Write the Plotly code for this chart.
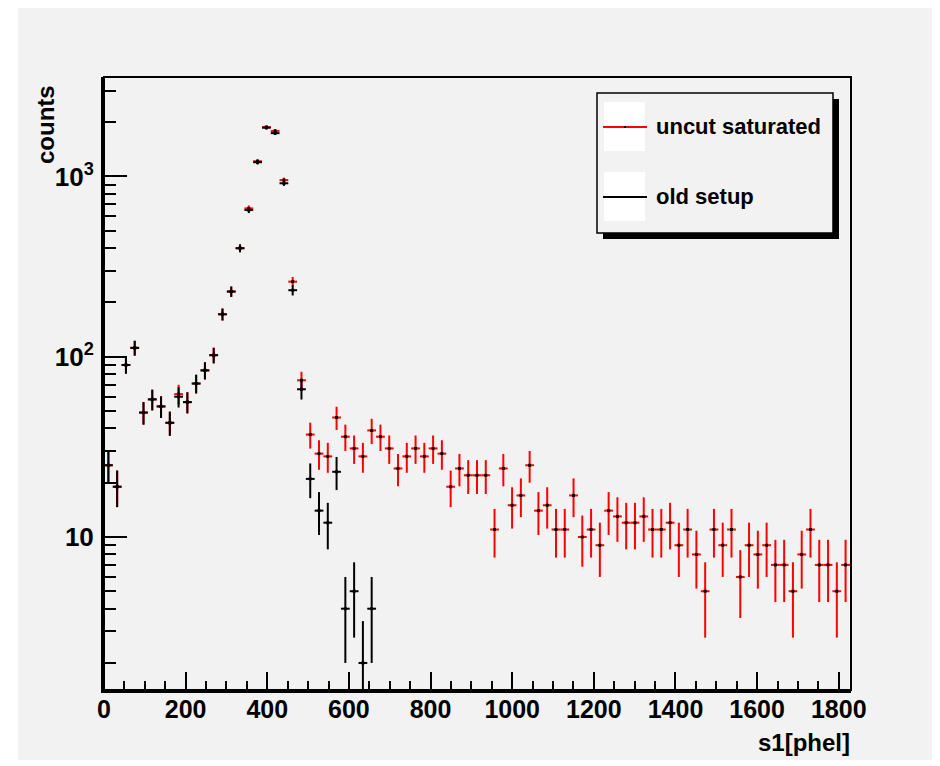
import numpy as np
import plotly.graph_objects as go

# ---------------- data ----------------
bin_width = 21.5          # phel per bin
n_bins = 85
x_max = 1830

old_setup_counts = [25, 19, 90, 112, 49, 58, 53, 43,
                    60, 56, 71, 84, 102, 172, 230, 400,
                    652, 1200, 1865, 1740, 917, 234,
                    66, 21, 14, 12, 23, 4, 5, 2, 4]

uncut_saturated_counts = [25, 19, 90, 112, 49, 58, 53, 43,
                          62, 56, 71, 84, 102, 172, 230, 400,
                          665, 1215, 1880, 1790, 955, 261,
                          74, 37, 29, 28, 46, 36, 31, 28, 39, 36,
                          31, 24, 28, 31, 28, 31, 29, 19, 24, 22,
                          22, 22, 11, 24, 15, 17, 25, 14, 15, 11,
                          11, 17, 10, 11, 9, 14, 13, 12, 12, 13,
                          11, 11, 12, 9, 11, 8, 5, 11, 9, 11,
                          6, 9, 8, 9, 7, 7, 5, 8, 11, 7,
                          7, 5, 7]

series_names = ["uncut saturated", "old setup"]
y_tick_values = [10, 100, 1000]
y_tick_labels = ["10", "10<sup>2</sup>", "10<sup>3</sup>"]
x_title = "s1[phel]"
y_title = "counts"

# ---------------- figure ----------------
OFF = 8                      # page body margin
W, H = 940 - OFF, 766 - OFF
L, T = 104 - OFF, 77 - OFF
R, B = W - (851 - OFF), H - (690 - OFF)
PW, PH = W - L - R, H - T - B

def px(x):
    """page pixel x -> paper"""
    return (x - OFF - L) / PW

def py(y):
    """page pixel y -> paper"""
    return (H - B - (y - OFF)) / PH

FONT = "Liberation Sans, Arial, Helvetica, sans-serif"
BG = "#f2f2f2"


def hist_trace(counts, color, name):
    counts = np.array(counts, dtype=float)
    centers = (np.arange(len(counts)) + 0.5) * bin_width
    return go.Scatter(
        x=centers, y=counts, name=name, mode="markers",
        marker=dict(color="black", size=3, symbol="square"),
        error_y=dict(type="data", array=np.sqrt(counts), symmetric=True,
                     color=color, thickness=2, width=0),
        error_x=dict(type="constant", value=bin_width / 2,
                     color=color, thickness=2, width=0),
        showlegend=False, hoverinfo="x+y",
    )


fig = go.Figure()
fig.add_trace(hist_trace(uncut_saturated_counts, "#ff0000", series_names[0]))
fig.add_trace(hist_trace(old_setup_counts, "#000000", series_names[1]))

minor_y = [v * m for m in (1, 10, 100) for v in range(2, 10)] + [2000, 3000]

fig.update_layout(
    width=W, height=H,
    margin=dict(l=L, r=R, t=T, b=B, pad=0),
    paper_bgcolor="white",
    plot_bgcolor=BG,
    font=dict(family=FONT, color="black"),
    xaxis=dict(
        range=[0, x_max], showgrid=False, zeroline=False,
        showline=True, linecolor="black", linewidth=3,
        ticks="inside", ticklen=18, tickwidth=1.5, tickcolor="black",
        tick0=0, dtick=200, ticklabelstandoff=-5,
        minor=dict(ticks="inside", ticklen=9, tickwidth=1.5, tickcolor="black", dtick=50),
        tickfont=dict(family=FONT, size=25, weight="bold", color="black"),
    ),
    yaxis=dict(
        type="log", range=[0.151, 3.552], showgrid=False, zeroline=False,
        showline=True, linecolor="black", linewidth=3,
        ticks="inside", ticklen=23, tickwidth=1.5, tickcolor="black",
        tickvals=y_tick_values, ticktext=y_tick_labels, ticklabelstandoff=2,
        minor=dict(ticks="inside", ticklen=12, tickwidth=1.5, tickcolor="black",
                   tickvals=minor_y),
        tickfont=dict(family=FONT, size=26, weight="bold", color="black"),
    ),
)

shapes = []
# grey canvas
shapes.append(dict(type="rect", xref="paper", yref="paper",
                   x0=px(18), x1=px(960), y0=py(760), y1=py(0),
                   fillcolor=BG, line=dict(width=0), layer="below"))
# frame
shapes.append(dict(type="rect", xref="paper", yref="paper",
                   x0=0, x1=1, y0=0, y1=1,
                   line=dict(color="black", width=2), fillcolor="rgba(0,0,0,0)"))
# legend shadow & box
shapes.append(dict(type="rect", xref="paper", yref="paper",
                   x0=px(603), x1=px(839), y0=py(239), y1=py(99),
                   fillcolor="black", line=dict(width=0)))
shapes.append(dict(type="rect", xref="paper", yref="paper",
                   x0=px(597), x1=px(833), y0=py(233), y1=py(93),
                   fillcolor=BG, line=dict(color="black", width=1.5)))
legend_rows = [(127, "#ff0000", series_names[0]), (197, "#000000", series_names[1])]
for yc, col, name in legend_rows:
    shapes.append(dict(type="rect", xref="paper", yref="paper",
                       x0=px(604), x1=px(645), y0=py(yc + 24), y1=py(yc - 25),
                       fillcolor="white", line=dict(width=0)))
    shapes.append(dict(type="line", xref="paper", yref="paper",
                       x0=px(603), x1=px(647), y0=py(yc), y1=py(yc),
                       line=dict(color=col, width=2)))
    shapes.append(dict(type="rect", xref="paper", yref="paper",
                       x0=px(624), x1=px(626), y0=py(yc + 1), y1=py(yc - 1),
                       fillcolor="black", line=dict(width=0)))
fig.update_layout(shapes=shapes)

annotations = []
for yc, col, name in legend_rows:
    annotations.append(dict(text=name, xref="paper", yref="paper",
                            x=px(654), y=py(yc), xanchor="left", yanchor="middle",
                            showarrow=False,
                            font=dict(family=FONT, size=22, weight="bold", color="black")))
annotations.append(dict(text=x_title, xref="paper", yref="paper",
                        x=px(852), y=py(742), xanchor="right", yanchor="middle",
                        showarrow=False,
                        font=dict(family=FONT, size=24, weight="bold", color="black")))
annotations.append(dict(text=y_title, xref="paper", yref="paper",
                        x=px(45), y=py(125), xanchor="center", yanchor="middle",
                        textangle=-90, showarrow=False,
                        font=dict(family=FONT, size=24, weight="bold", color="black")))
fig.update_layout(annotations=annotations)

fig.write_html("out.html")
